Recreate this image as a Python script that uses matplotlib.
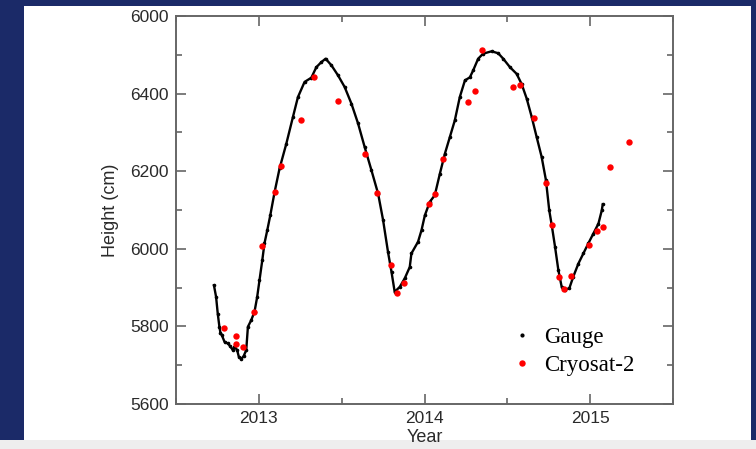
import matplotlib
matplotlib.use("Agg")
import matplotlib.pyplot as plt
from matplotlib.patches import Rectangle
from matplotlib.ticker import MultipleLocator, FixedLocator, FixedFormatter

# gauge record (decimal year, height in cm)
gauge_year = [2012.729, 2012.742, 2012.752, 2012.762, 2012.768, 2012.776, 2012.793, 2012.813,
              2012.827, 2012.843, 2012.853, 2012.869, 2012.879, 2012.894, 2012.909, 2012.924,
              2012.934, 2012.954, 2012.974, 2012.990, 2013.004, 2013.021, 2013.034, 2013.051,
              2013.069, 2013.095, 2013.125, 2013.166, 2013.206, 2013.236, 2013.276, 2013.317,
              2013.347, 2013.377, 2013.403, 2013.438, 2013.478, 2013.518, 2013.559, 2013.599,
              2013.639, 2013.680, 2013.720, 2013.750, 2013.780, 2013.801, 2013.820, 2013.851,
              2013.881, 2013.911, 2013.921, 2013.961, 2013.982, 2014.002, 2014.032, 2014.062,
              2014.093, 2014.123, 2014.153, 2014.183, 2014.213, 2014.244, 2014.274, 2014.294,
              2014.324, 2014.354, 2014.405, 2014.445, 2014.475, 2014.516, 2014.556, 2014.586,
              2014.617, 2014.647, 2014.677, 2014.707, 2014.733, 2014.753, 2014.768, 2014.788,
              2014.808, 2014.828, 2014.848, 2014.874, 2014.898, 2014.929, 2014.959, 2014.989,
              2015.019, 2015.050, 2015.070, 2015.076]
gauge_height = [5906, 5876, 5833, 5799, 5784, 5778, 5760, 5756,
                5749, 5739, 5748, 5739, 5722, 5716, 5724, 5739,
                5799, 5816, 5838, 5876, 5919, 5971, 6014, 6048,
                6086, 6146, 6207, 6271, 6340, 6391, 6430, 6441,
                6468, 6481, 6490, 6473, 6447, 6417, 6374, 6323,
                6262, 6202, 6142, 6074, 5991, 5940, 5889, 5902,
                5924, 5953, 5988, 6018, 6048, 6086, 6121, 6138,
                6194, 6245, 6288, 6331, 6391, 6434, 6442, 6460,
                6490, 6503, 6509, 6504, 6490, 6468, 6451, 6425,
                6387, 6340, 6288, 6237, 6177, 6099, 6061, 6005,
                5945, 5902, 5895, 5898, 5928, 5962, 5988, 6014,
                6039, 6065, 6099, 6115]

# Cryosat-2 altimetry points
cryo_year = [2012.788, 2012.863, 2012.863, 2012.903, 2012.972, 2013.018, 2013.097, 2013.131,
             2013.252, 2013.333, 2013.480, 2013.639, 2013.716, 2013.798, 2013.834, 2013.877,
             2014.028, 2014.066, 2014.111, 2014.264, 2014.302, 2014.346, 2014.532, 2014.576,
             2014.659, 2014.733, 2014.768, 2014.812, 2014.844, 2014.886, 2014.995, 2015.042,
             2015.080, 2015.122, 2015.233]
cryo_height = [5796, 5775, 5755, 5747, 5837, 6006, 6146, 6213,
               6333, 6444, 6380, 6245, 6143, 5958, 5886, 5911,
               6116, 6140, 6232, 6379, 6407, 6512, 6416, 6421,
               6338, 6169, 6061, 5928, 5897, 5931, 6009, 6045,
               6056, 6211, 6276]

year_ticks = [2013, 2014, 2015]
height_ticks = [5600, 5800, 6000, 6200, 6400, 6600]
height_tick_labels = ['5600', '5800', '6000', '6200', '6400', '6000']

W, H = 756, 449
fig = plt.figure(figsize=(W / 100, H / 100), dpi=100, facecolor='#1b2a68')
# white slide panel and light strip at the bottom
fig.add_artist(Rectangle((24 / W, 1 - 440 / H), (751 - 24) / W, (440 - 6) / H,
                         transform=fig.transFigure, facecolor='white', edgecolor='none', zorder=0))
fig.add_artist(Rectangle((0, 0), 1, 9 / H, transform=fig.transFigure,
                         facecolor='#eeeeee', edgecolor='none', zorder=0))

ax = fig.add_axes([176 / W, 1 - 404 / H, (673 - 176) / W, (404 - 16) / H])
ax.set_facecolor('white')

ax.plot(gauge_year, gauge_height, color='black', lw=1.7, marker='o', ms=1.6,
        solid_joinstyle='round', label='Gauge', zorder=2)
ax.plot(cryo_year, cryo_height, linestyle='none', marker='o', ms=4.6, color='#ff0000',
        markeredgewidth=0, label='Cryosat-2', zorder=3)

ax.set_xlim(2012.5, 2015.5)
ax.set_ylim(5600, 6600)
ax.xaxis.set_major_locator(FixedLocator(year_ticks))
ax.xaxis.set_minor_locator(MultipleLocator(0.5))
ax.yaxis.set_major_locator(FixedLocator(height_ticks))
ax.yaxis.set_major_formatter(FixedFormatter(height_tick_labels))
ax.yaxis.set_minor_locator(MultipleLocator(100))

tick_font = 'Liberation Sans'
for lab in ax.get_xticklabels() + ax.get_yticklabels():
    lab.set_fontfamily(tick_font)
ax.tick_params(which='both', direction='in', top=True, right=True, color='#666666',
               width=1.2, labelsize=12.5, labelcolor='#2a2a2a')
ax.tick_params(which='major', length=7, pad=5)
ax.tick_params(which='minor', length=4)
for s in ax.spines.values():
    s.set_color('#666666')
    s.set_linewidth(1.4)

ax.set_xlabel('Year', fontsize=13, color='#2a2a2a', family=tick_font, labelpad=2)
ax.set_ylabel('Height (cm)', fontsize=13, color='#2a2a2a', family=tick_font, labelpad=8)

leg = ax.legend(loc='upper left', bbox_to_anchor=(511 / W, 1 - 327 / H),
                bbox_transform=fig.transFigure, frameon=False, numpoints=1,
                handlelength=1.0, handletextpad=0.45, borderpad=0, borderaxespad=0,
                labelspacing=0.3, prop={'family': 'Liberation Serif', 'size': 16.5})
leg.legend_handles[0].set_linestyle('none')
leg.legend_handles[0].set_markersize(2)

fig.savefig('out.png', dpi=100, facecolor=fig.get_facecolor())
